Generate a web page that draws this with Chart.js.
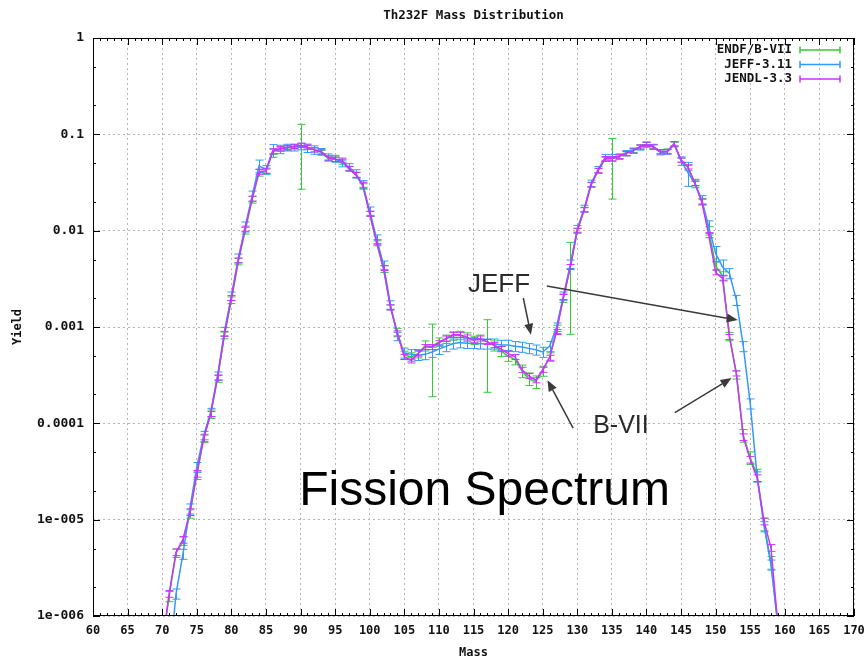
<!DOCTYPE html>
<html>
<head>
<meta charset="utf-8">
<script src="https://cdn.jsdelivr.net/npm/chart.js@4.4.1/dist/chart.umd.min.js"></script>
<style>
  html, body { margin: 0; padding: 0; background: #fff; }
  #wrap { width: 868px; height: 659px; }
</style>
</head>
<body>
<div id="wrap"><canvas id="graph" width="868" height="659"></canvas></div>
<script>
// -------------------------
// DATA
// -------------------------
const masses = [
  70, 71, 72, 73, 74, 75, 76, 77, 78, 79,
  80, 81, 82, 83, 84, 85, 86, 87, 88, 89,
  90, 91, 92, 93, 94, 95, 96, 97, 98, 99,
  100, 101, 102, 103, 104, 105, 106, 107, 108, 109,
  110, 111, 112, 113, 114, 115, 116, 117, 118, 119,
  120, 121, 122, 123, 124, 125, 126, 127, 128, 129,
  130, 131, 132, 133, 134, 135, 136, 137, 138, 139,
  140, 141, 142, 143, 144, 145, 146, 147, 148, 149,
  150, 151, 152, 153, 154, 155, 156, 157, 158, 159
];

const endfYield = [
  5e-7, 1.6e-6, 4.5e-6, 6.0e-6, 1.15e-5, 2.9e-5, 7.0e-5, 1.25e-4, 2.9e-4, 8.2e-4,
  1.9e-3, 4.8e-3, 1.0e-2, 2.1e-2, 4.0e-2, 4.1e-2, 6.6e-2, 7.0e-2, 7.2e-2, 7.4e-2,
  7.7e-2, 7.3e-2, 6.9e-2, 6.5e-2, 5.6e-2, 5.5e-2, 5.2e-2, 4.4e-2, 3.8e-2, 2.9e-2,
  1.5e-2, 7.4e-3, 4.0e-3, 1.6e-3, 8.8e-4, 5.1e-4, 4.9e-4, 5.3e-4, 6.4e-4, 6.3e-4,
  7.0e-4, 7.5e-4, 8.1e-4, 8.2e-4, 7.9e-4, 7.3e-4, 7.5e-4, 7.0e-4, 6.4e-4, 5.6e-4,
  5.0e-4, 4.6e-4, 3.5e-4, 2.9e-4, 2.7e-4, 3.5e-4, 4.9e-4, 9.5e-4, 2.0e-3, 4.2e-3,
  1.0e-2, 1.65e-2, 3.0e-2, 4.2e-2, 5.5e-2, 5.6e-2, 5.8e-2, 6.3e-2, 6.8e-2, 7.4e-2,
  7.9e-2, 7.5e-2, 6.6e-2, 6.7e-2, 7.9e-2, 5.4e-2, 4.5e-2, 3.1e-2, 2.0e-2, 1.0e-2,
  4.3e-3, 3.4e-3, 8.0e-4, 3.2e-4, 7.5e-5, 4.4e-5, 2.9e-5, 9.0e-6, 3.6e-6, 8e-7
];

const jeffYield = [
  1e-7, 3e-7, 1.7e-6, 4.4e-6, 1.3e-5, 3.5e-5, 7.5e-5, 1.3e-4, 3.1e-4, 9.0e-4,
  2.1e-3, 5.2e-3, 1.1e-2, 2.3e-2, 4.7e-2, 4.3e-2, 6.8e-2, 7.0e-2, 7.3e-2, 7.3e-2,
  7.5e-2, 7.2e-2, 6.9e-2, 6.6e-2, 5.8e-2, 5.6e-2, 5.0e-2, 4.6e-2, 3.9e-2, 3.0e-2,
  1.6e-2, 8.2e-3, 4.4e-3, 1.7e-3, 8.0e-4, 5.4e-4, 5.2e-4, 5.1e-4, 5.2e-4, 5.5e-4,
  5.9e-4, 6.3e-4, 6.7e-4, 6.9e-4, 6.8e-4, 6.8e-4, 6.7e-4, 6.7e-4, 6.7e-4, 6.5e-4,
  6.5e-4, 6.3e-4, 6.2e-4, 6.0e-4, 5.8e-4, 5.5e-4, 6.3e-4, 1.0e-3, 2.1e-3, 4.5e-3,
  1.05e-2, 1.7e-2, 3.1e-2, 4.3e-2, 5.7e-2, 5.7e-2, 5.9e-2, 6.4e-2, 6.8e-2, 7.3e-2,
  7.8e-2, 7.4e-2, 6.5e-2, 6.6e-2, 7.9e-2, 5.3e-2, 4.0e-2, 3.1e-2, 2.1e-2, 1.1e-2,
  5.8e-3, 4.2e-3, 3.6e-3, 1.9e-3, 6.3e-4, 1.6e-4, 2.8e-5, 8.5e-6, 3.4e-6, 8e-7
];

const jendlYield = [
  5e-7, 1.7e-6, 4.6e-6, 6.2e-6, 1.2e-5, 3.0e-5, 7.0e-5, 1.25e-4, 3.0e-4, 8.5e-4,
  2.0e-3, 4.9e-3, 1.05e-2, 2.15e-2, 4.1e-2, 4.2e-2, 6.7e-2, 7.1e-2, 7.3e-2, 7.5e-2,
  7.7e-2, 7.4e-2, 6.9e-2, 6.6e-2, 5.7e-2, 5.5e-2, 5.4e-2, 4.4e-2, 3.8e-2, 3.0e-2,
  1.5e-2, 7.6e-3, 4.1e-3, 1.6e-3, 8.6e-4, 4.9e-4, 4.5e-4, 5.3e-4, 6.2e-4, 6.2e-4,
  6.8e-4, 7.6e-4, 8.3e-4, 8.3e-4, 7.8e-4, 7.3e-4, 7.6e-4, 7.0e-4, 6.5e-4, 5.9e-4,
  5.3e-4, 4.9e-4, 3.6e-4, 3.1e-4, 2.8e-4, 3.6e-4, 4.8e-4, 8.9e-4, 2.05e-3, 4.2e-3,
  1.0e-2, 1.65e-2, 3.0e-2, 4.2e-2, 5.6e-2, 5.6e-2, 5.9e-2, 6.3e-2, 6.7e-2, 7.4e-2,
  7.9e-2, 7.4e-2, 6.6e-2, 6.6e-2, 8.0e-2, 5.4e-2, 4.6e-2, 3.1e-2, 2.0e-2, 9.0e-3,
  3.7e-3, 3.2e-3, 7.9e-4, 3.3e-4, 7.2e-5, 4.2e-5, 2.7e-5, 9.6e-6, 5.1e-6, 8e-7
];

// relative uncertainties (fraction of the yield)
const endfErr = [
  0.10, 0.12, 0.10, 0.10, 0.10, 0.10, 0.10, 0.10, 0.08, 0.08,
  0.08, 0.08, 0.08, 0.08, 0.08, 0.06, 0.06, 0.05, 0.05, 0.05,
  0.65, 0.05, 0.05, 0.05, 0.06, 0.06, 0.06, 0.06, 0.06, 0.06,
  0.06, 0.06, 0.08, 0.06, 0.10, 0.10, 0.10, 0.10, 0.12, 0.70,
  0.10, 0.10, 0.10, 0.10, 0.10, 0.10, 0.10, 0.70, 0.12, 0.12,
  0.12, 0.12, 0.15, 0.15, 0.15, 0.12, 0.10, 0.10, 0.10, 0.80,
  0.06, 0.06, 0.06, 0.06, 0.05, 0.62, 0.05, 0.05, 0.05, 0.05,
  0.05, 0.05, 0.05, 0.05, 0.05, 0.05, 0.06, 0.06, 0.08, 0.10,
  0.10, 0.10, 0.10, 0.10, 0.15, 0.15, 0.15, 0.15, 0.15, 0.15
];

const jeffErr = [
  0.12, 0.12, 0.12, 0.12, 0.12, 0.12, 0.10, 0.10, 0.10, 0.10,
  0.10, 0.10, 0.12, 0.12, 0.15, 0.10, 0.15, 0.10, 0.08, 0.08,
  0.08, 0.10, 0.10, 0.08, 0.08, 0.08, 0.08, 0.08, 0.10, 0.10,
  0.10, 0.10, 0.10, 0.10, 0.10, 0.12, 0.12, 0.12, 0.12, 0.12,
  0.12, 0.12, 0.12, 0.12, 0.12, 0.12, 0.12, 0.12, 0.12, 0.12,
  0.12, 0.12, 0.12, 0.12, 0.12, 0.12, 0.12, 0.10, 0.10, 0.10,
  0.08, 0.08, 0.08, 0.08, 0.08, 0.08, 0.06, 0.06, 0.06, 0.06,
  0.06, 0.06, 0.06, 0.06, 0.06, 0.10, 0.28, 0.10, 0.10, 0.15,
  0.18, 0.18, 0.12, 0.12, 0.12, 0.12, 0.12, 0.12, 0.12, 0.12
];

const jendlErr = [
  0.08, 0.08, 0.08, 0.08, 0.08, 0.08, 0.08, 0.06, 0.06, 0.06,
  0.06, 0.06, 0.06, 0.06, 0.06, 0.06, 0.06, 0.05, 0.05, 0.05,
  0.05, 0.05, 0.05, 0.05, 0.05, 0.05, 0.05, 0.05, 0.06, 0.06,
  0.06, 0.06, 0.06, 0.06, 0.06, 0.06, 0.06, 0.06, 0.06, 0.06,
  0.06, 0.06, 0.06, 0.06, 0.06, 0.06, 0.06, 0.06, 0.06, 0.06,
  0.06, 0.06, 0.06, 0.06, 0.06, 0.06, 0.06, 0.06, 0.06, 0.06,
  0.05, 0.05, 0.05, 0.05, 0.05, 0.05, 0.05, 0.05, 0.05, 0.05,
  0.05, 0.05, 0.05, 0.05, 0.05, 0.05, 0.05, 0.05, 0.06, 0.06,
  0.06, 0.06, 0.06, 0.06, 0.08, 0.08, 0.08, 0.08, 0.08, 0.08
];

const chartTitle = "Th232F Mass Distribution";
const seriesLabels = ["ENDF/B-VII", "JEFF-3.11", "JENDL-3.3"];
const yTicks = [0.000001, 0.00001, 0.0001, 0.001, 0.01, 0.1, 1];
const yTickLabels = ["1e-006", "1e-005", "0.0001", "0.001", "0.01", "0.1", "1"];

// annotations placed in data coordinates (mass, yield)
const noteTexts = ["JEFF", "B-VII", "Fission Spectrum"];
const noteAt = [[114.2, 2.3e-3], [132.3, 7.9e-5], [89.8, 1.43e-5]];
const arrowFrom = [[122.2, 2.0e-3], [125.6, 2.66e-3], [129.4, 8.9e-5], [144.1, 1.29e-4]];
const arrowTo = [[123.3, 8.3e-4], [153.2, 1.18e-3], [125.7, 2.8e-4], [152.3, 2.95e-4]];

const GREEN = "#33cc33";
const BLUE = "#3399ff";
const MAGENTA = "#cc33ff";
const MONO = '"DejaVu Sans Mono", monospace';

function points(values) {
  return masses.map((m, i) => ({ x: m, y: values[i] }));
}

// -------------------------
// PLUGINS
// -------------------------
const errorBars = {
  id: "errorBars",
  afterDatasetDraw(chart, args) {
    const ds = chart.data.datasets[args.index];
    const errs = ds.errors;
    if (!errs) return;
    const { ctx, chartArea: a, scales: { x, y } } = chart;
    ctx.save();
    ctx.beginPath();
    ctx.rect(a.left, a.top, a.right - a.left, a.bottom - a.top);
    ctx.clip();
    ctx.strokeStyle = ds.borderColor;
    ctx.lineWidth = 1;
    ds.data.forEach((p, i) => {
      const e = errs[i];
      const px = Math.round(x.getPixelForValue(p.x)) + 0.5;
      const lo = y.getPixelForValue(p.y * (1 - e));
      const hi = y.getPixelForValue(p.y * (1 + e));
      ctx.beginPath();
      ctx.moveTo(px, lo); ctx.lineTo(px, hi);
      ctx.moveTo(px - 4, lo); ctx.lineTo(px + 4, lo);
      ctx.moveTo(px - 4, hi); ctx.lineTo(px + 4, hi);
      ctx.stroke();
    });
    ctx.restore();
  }
};

const frame = {
  id: "frame",
  afterDraw(chart) {
    const { ctx, chartArea: a, scales: { x, y } } = chart;
    ctx.save();

    // title, centred over the plot area
    ctx.fillStyle = "#111";
    ctx.font = "bold 12.5px " + MONO;
    ctx.textAlign = "center";
    ctx.textBaseline = "middle";
    ctx.fillText(chartTitle, (a.left + a.right) / 2, 16);

    ctx.strokeStyle = "#000";
    ctx.lineWidth = 1;
    ctx.strokeRect(a.left + 0.5, a.top + 0.5, a.right - a.left - 1, a.bottom - a.top - 1);

    ctx.beginPath();
    // x ticks, bottom and top, pointing inwards
    for (let m = 60; m <= 170; m++) {
      const px = Math.round(x.getPixelForValue(m)) + 0.5;
      const len = m % 5 === 0 ? 7 : 3;
      ctx.moveTo(px, a.bottom); ctx.lineTo(px, a.bottom - len);
      ctx.moveTo(px, a.top); ctx.lineTo(px, a.top + len);
    }
    // y ticks, left and right
    yTicks.forEach(d => {
      [1, 2, 5].forEach(k => {
        const v = d * k;
        if (v > 1) return;
        const py = Math.round(y.getPixelForValue(v)) + 0.5;
        const len = k === 1 ? 7 : 3;
        ctx.moveTo(a.left, py); ctx.lineTo(a.left + len, py);
        ctx.moveTo(a.right, py); ctx.lineTo(a.right - len, py);
      });
    });
    ctx.stroke();

    // legend inside the top right corner
    ctx.font = "bold 12.5px " + MONO;
    ctx.textAlign = "right";
    ctx.textBaseline = "middle";
    chart.data.datasets.forEach((ds, i) => {
      const ly = a.top + 12 + i * 14.5;
      ctx.fillStyle = "#111";
      ctx.fillText(ds.label, a.right - 62, ly);
      ctx.strokeStyle = ds.borderColor;
      ctx.lineWidth = 1.5;
      ctx.beginPath();
      ctx.moveTo(a.right - 54, ly); ctx.lineTo(a.right - 14, ly);
      ctx.moveTo(a.right - 54, ly - 3.5); ctx.lineTo(a.right - 54, ly + 3.5);
      ctx.moveTo(a.right - 14, ly - 3.5); ctx.lineTo(a.right - 14, ly + 3.5);
      ctx.stroke();
    });

    // arrows
    ctx.strokeStyle = "#3a3a3a";
    ctx.fillStyle = "#3a3a3a";
    ctx.lineWidth = 1.5;
    arrowFrom.forEach((f, i) => {
      const x1 = x.getPixelForValue(f[0]), y1 = y.getPixelForValue(f[1]);
      const x2 = x.getPixelForValue(arrowTo[i][0]), y2 = y.getPixelForValue(arrowTo[i][1]);
      const ang = Math.atan2(y2 - y1, x2 - x1);
      const hl = 11, hw = 4.5;
      const bx = x2 - hl * Math.cos(ang), by = y2 - hl * Math.sin(ang);
      ctx.beginPath();
      ctx.moveTo(x1, y1); ctx.lineTo(bx, by);
      ctx.stroke();
      ctx.beginPath();
      ctx.moveTo(x2, y2);
      ctx.lineTo(bx + hw * Math.sin(ang), by - hw * Math.cos(ang));
      ctx.lineTo(bx - hw * Math.sin(ang), by + hw * Math.cos(ang));
      ctx.closePath();
      ctx.fill();
    });

    // free text annotations
    const sizes = [26, 25, 48];
    ctx.textAlign = "left";
    ctx.textBaseline = "alphabetic";
    noteTexts.forEach((t, i) => {
      ctx.fillStyle = i === 2 ? "#000" : "#2a2a2a";
      ctx.font = sizes[i] + 'px "Liberation Sans", Arial, sans-serif';
      ctx.fillText(t, x.getPixelForValue(noteAt[i][0]), y.getPixelForValue(noteAt[i][1]));
    });
    ctx.restore();
  }
};

// -------------------------
// CHART
// -------------------------
let chart;

function initChart() {
  const ctx = document.getElementById("graph").getContext("2d");

  chart = new Chart(ctx, {
    type: "line",
    data: {
      datasets: [
        { label: seriesLabels[0], data: points(endfYield), errors: endfErr, borderColor: GREEN, order: 3 },
        { label: seriesLabels[1], data: points(jeffYield), errors: jeffErr, borderColor: BLUE, order: 2 },
        { label: seriesLabels[2], data: points(jendlYield), errors: jendlErr, borderColor: MAGENTA, order: 1 }
      ]
    },
    options: {
      responsive: false,
      animation: false,
      devicePixelRatio: 1,
      layout: { padding: { left: 0, right: 14, top: 38, bottom: 0 } },
      datasets: {
        line: { borderWidth: 1.5, pointRadius: 0, tension: 0, fill: false }
      },
      plugins: {
        legend: { display: false },
        tooltip: { enabled: false },
        title: { display: false }
      },
      scales: {
        x: {
          type: "linear",
          min: 60,
          max: 170,
          ticks: {
            stepSize: 5,
            autoSkip: false,
            maxRotation: 0,
            padding: 8,
            color: "#111",
            font: { family: MONO, size: 12, weight: "bold" }
          },
          grid: { color: "#b5b5b5", lineWidth: 1, drawTicks: false },
          border: { display: false, dash: [2, 3] },
          title: {
            display: true,
            text: "Mass",
            color: "#111",
            padding: { top: 0, bottom: 0 },
            font: { family: MONO, size: 12, weight: "bold", lineHeight: 1 }
          },
          afterFit: s => { s.height = 43; s.paddingLeft = 0; s.paddingRight = 0; }
        },
        y: {
          type: "logarithmic",
          min: 0.000001,
          max: 1,
          afterBuildTicks: s => { s.ticks = yTicks.map(v => ({ value: v })); },
          ticks: {
            padding: 9,
            color: "#111",
            font: { family: MONO, size: 13, weight: "bold" },
            callback: v => yTickLabels[yTicks.indexOf(v)]
          },
          grid: { color: "#b5b5b5", lineWidth: 1, drawTicks: false },
          border: { display: false, dash: [2, 3] },
          title: {
            display: true,
            text: "Yield",
            color: "#111",
            padding: { top: 12, bottom: 0 },
            font: { family: MONO, size: 12, weight: "bold", lineHeight: 1 }
          },
          afterFit: s => { s.width = 93; s.paddingTop = 0; s.paddingBottom = 0; }
        }
      }
    },
    plugins: [errorBars, frame]
  });
}

initChart();
</script>
</body>
</html>
